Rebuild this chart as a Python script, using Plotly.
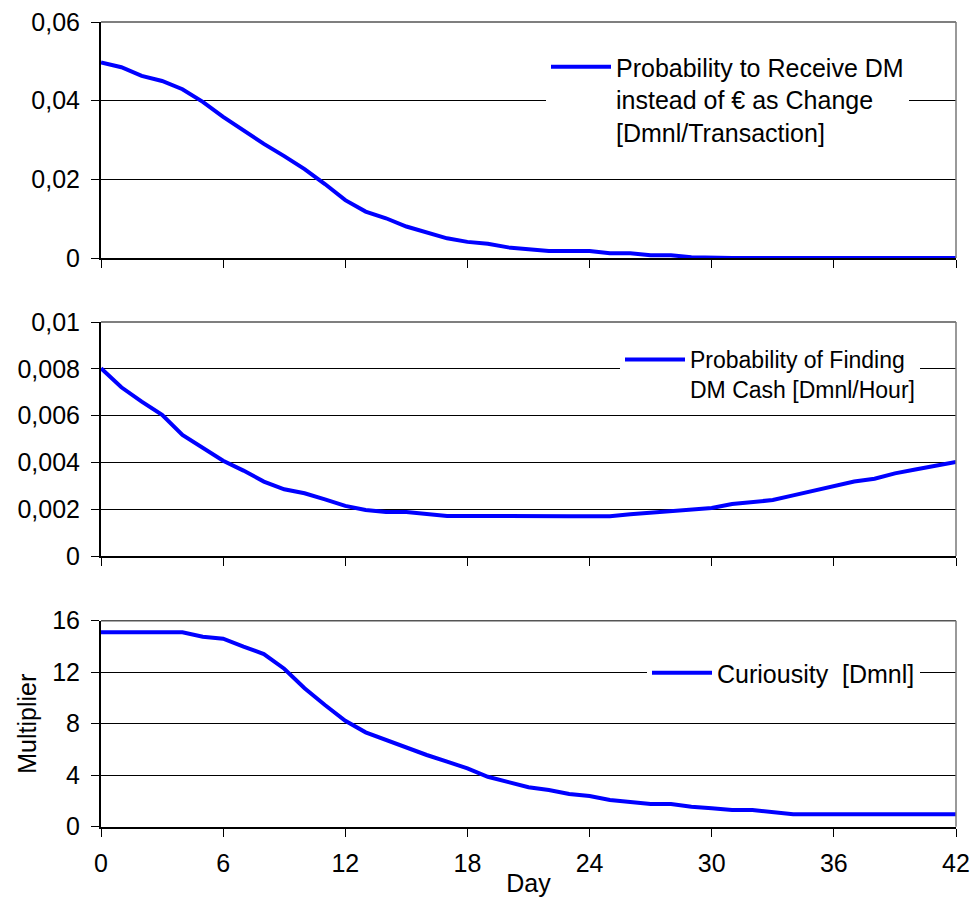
import plotly.graph_objects as go

days = list(range(43))

prob_receive_dm = [0.0497, 0.0485, 0.0463, 0.0450, 0.0429, 0.0397, 0.0359, 0.0324, 0.0290, 0.0259,
                   0.0226, 0.0188, 0.0147, 0.0118, 0.0101, 0.0080, 0.0065, 0.0050, 0.0041, 0.0036,
                   0.0027, 0.0023, 0.0018, 0.0018, 0.0018, 0.0012, 0.0012, 0.0007, 0.0007, 0.0002,
                   0, 0, 0, 0, 0, 0, 0, 0, 0, 0, 0, 0, 0]

prob_find_dm = [0.00802, 0.00721, 0.00660, 0.00603, 0.00517, 0.00463, 0.00407, 0.00365, 0.00318, 0.00285,
                0.00268, 0.00242, 0.00214, 0.00197, 0.00188, 0.00188, 0.00180, 0.00171, 0.00171, 0.00170,
                0.00170, 0.00170, 0.00170, 0.00170, 0.00170, 0.00170, 0.00178, 0.00185, 0.00188, 0.00197,
                0.00205, 0.00222, 0.00230, 0.00239, 0.00259, 0.00279, 0.00299, 0.00318, 0.00330, 0.00353,
                0.00370, 0.00385, 0.00402]

curiosity = [15.1, 15.1, 15.1, 15.1, 15.1, 14.76, 14.6, 13.98, 13.41, 12.27,
             10.75, 9.45, 8.23, 7.33, 6.73, 6.21, 5.57, 5.05, 4.53, 3.88,
             3.5, 3.06, 2.85, 2.54, 2.38, 2.07, 1.92, 1.76, 1.76, 1.55,
             1.43, 1.3, 1.3, 1.14, 0.96, 0.96, 0.96, 0.96, 0.96, 0.96, 0.96, 0.96, 0.96]

names = ["Probability to Receive DM<br>instead of € as Change<br>[Dmnl/Transaction]",
         "Probability of Finding<br>DM Cash [Dmnl/Hour]",
         "Curiousity  [Dmnl]"]

W, H = 974, 897
FONT = "Arial, Liberation Sans, sans-serif"
BLUE = "#0000FF"

xl, xr = 101 / W, 956 / W
doms = [(1 - 258 / H, 1 - 22 / H), (1 - 556 / H, 1 - 322 / H), (1 - 826.7 / H, 1 - 620.7 / H)]

fig = go.Figure()
series = [prob_receive_dm, prob_find_dm, curiosity]
for i, s in enumerate(series):
    fig.add_trace(go.Scatter(
        x=days, y=s, mode="lines", name=names[i],
        line=dict(color=BLUE, width=4),
        xaxis="x" if i == 0 else f"x{i+1}",
        yaxis="y" if i == 0 else f"y{i+1}",
        legend="legend" if i == 0 else f"legend{i+1}",
    ))

yranges = [[0, 0.06], [0, 0.01], [0, 16]]
ydticks = [0.02, 0.002, 4]

layout = dict(
    width=W, height=H,
    margin=dict(l=0, r=0, t=0, b=0),
    paper_bgcolor="white", plot_bgcolor="white",
    separators=", ",
    font=dict(family=FONT, size=25, color="black"),
    showlegend=True,
)

for i in range(3):
    sx = "" if i == 0 else str(i + 1)
    layout[f"xaxis{sx}"] = dict(
        domain=[xl, xr], range=[0, 42], dtick=6, tick0=0,
        anchor=f"y{sx}", showgrid=False, zeroline=False,
        showline=True, linecolor="black", linewidth=2,
        ticks="outside", ticklen=8, tickcolor="black", tickwidth=1,
        showticklabels=(i == 2), ticklabelstandoff=5,
        layer="below traces", automargin=False,
        tickfont=dict(size=25),
    )
    # inside ticks overlay to make crossing tick marks
    layout[f"xaxis{i+4}"] = dict(
        overlaying=f"x{sx}", matches=f"x{sx}", anchor=f"y{sx}", side="bottom",
        range=[0, 42], dtick=6, tick0=0, showgrid=False, zeroline=False, showline=False,
        ticks="inside", ticklen=8, tickcolor="black", tickwidth=1,
        showticklabels=False, automargin=False,
    )
    layout[f"yaxis{sx}"] = dict(
        domain=list(doms[i]), range=yranges[i], dtick=ydticks[i], tick0=0,
        anchor=f"x{sx}", showgrid=True, gridcolor="black", gridwidth=1,
        zeroline=False, showline=True, linecolor="black", linewidth=2,
        ticks="outside", ticklen=8, tickcolor="black", tickwidth=1,
        ticklabelstandoff=6, layer="below traces", automargin=False,
        tickfont=dict(size=25),
    )

layout["xaxis3"]["title"] = dict(text="Day", standoff=12, font=dict(size=25))
layout["yaxis3"]["title"] = dict(text="Multiplier", standoff=8, font=dict(size=25))

leg_common = dict(bgcolor="white", borderwidth=0, xanchor="left", yanchor="top",
                  itemwidth=60, valign="top", tracegroupgap=0)
layout["legend"] = dict(x=546 / W, y=1 - 44 / H,
                        font=dict(family=FONT, size=25, color="black"), **leg_common)
layout["legend2"] = dict(x=620 / W, y=1 - 338 / H,
                         font=dict(family=FONT, size=23, color="black"), **leg_common)
layout["legend3"] = dict(x=647 / W, y=1 - 650 / H,
                         font=dict(family=FONT, size=25, color="black"), **leg_common)

# gray top and right frame lines
shapes = []
for i in range(3):
    sx = "" if i == 0 else str(i + 1)
    shapes.append(dict(type="line", xref=f"x{sx} domain", yref=f"y{sx} domain",
                       x0=0, x1=1, y0=1, y1=1, line=dict(color="#555555", width=1.5)))
    shapes.append(dict(type="line", xref=f"x{sx} domain", yref=f"y{sx} domain",
                       x0=1, x1=1, y0=0, y1=1, line=dict(color="#777777", width=1.5)))
layout["shapes"] = shapes

fig.update_layout(**layout)
fig.write_html("out.html")
